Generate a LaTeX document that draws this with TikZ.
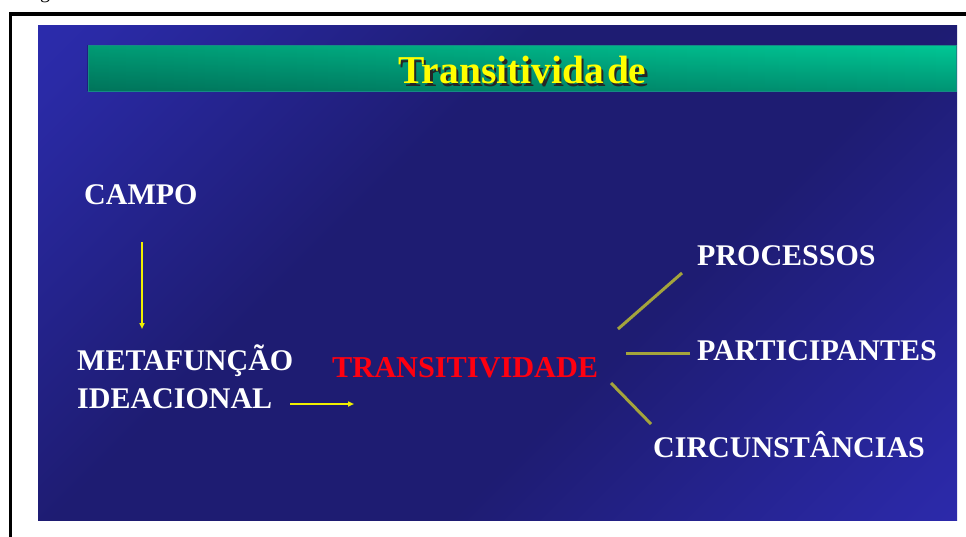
\documentclass[tikz,border=0pt]{standalone}
\usepackage{fontspec}
\setmainfont{Liberation Serif}
\usetikzlibrary{arrows.meta,fadings}
\definecolor{bgA}{HTML}{3232C4}
\definecolor{bgA2}{HTML}{2A2AA6}
\definecolor{bgM}{HTML}{1E1C72}
\definecolor{bgB2}{HTML}{2A28A4}
\definecolor{bgB}{HTML}{3430C6}
\definecolor{barTop}{HTML}{00C896}
\definecolor{barBot}{HTML}{009474}
\definecolor{barEdge}{HTML}{168A84}
\definecolor{titleY}{HTML}{FFFF00}
\definecolor{arrowY}{HTML}{F0F000}
\definecolor{branchO}{HTML}{A4A43C}
\definecolor{redT}{HTML}{FF0010}
\pgfdeclareverticalshading{slidebg}{100bp}{color(0bp)=(bgB); color(18bp)=(bgB2); color(40bp)=(bgM); color(60bp)=(bgM); color(82bp)=(bgA2); color(100bp)=(bgA)}
\tikzset{
  lbl/.style={text=white,font=\bfseries\fontsize{30}{38}\selectfont,inner sep=0pt,anchor=base west},
  redlbl/.style={text=redT,font=\bfseries\fontsize{30.3}{38}\selectfont,inner sep=0pt,anchor=base west},
  ttl/.style={font=\bfseries\fontsize{39.5}{44}\selectfont,inner sep=0pt,anchor=base},
  yarrow/.style={draw=arrowY,line width=1.5pt,-{Triangle[length=6pt,width=5pt]}},
  branch/.style={draw=branchO,line width=3pt}
}
\begin{document}
\begin{tikzpicture}[x=1pt,y=-1pt]
\useasboundingbox (0,0) rectangle (966,536);
% cut-off text at the very top
\begin{scope}
\clip (0,0) rectangle (966,3);
\node[font=\fontsize{20}{20}\selectfont,inner sep=0pt,anchor=base] (gcut) at (45,-2) {g};
\end{scope}
% frame
\draw[black,line width=3.5pt] (10.5,540) -- (10.5,14) -- (970,14);
% slide background
\shade[shading=slidebg,shading angle=45] (38,25) rectangle (957,520);
% title bar
\shade[top color=barTop,bottom color=barBot] (88,45) rectangle (956,91);
\fill[black,opacity=0.22,path fading=east] (88,45) rectangle (956,91);
\draw[barEdge,line width=0.8pt] (88,45) rectangle (956,91);
\node[ttl,text=black!85] (titleshadow) at (525,86) {Transitivida\hspace{3pt}de};
\node[ttl,text=titleY] (title) at (522.5,83) {Transitivida\hspace{3pt}de};
% labels
\node[lbl] (campo) at (84,204) {CAMPO};
\node[lbl] (meta1) at (77,370) {METAFUNÇÃO};
\node[lbl] (meta2) at (77,408) {IDEACIONAL};
\node[redlbl] (trans) at (332,377) {TRANSITIVIDADE};
\node[lbl] (proc) at (697,265) {PROCESSOS};
\node[lbl] (part) at (697,360) {PARTICIPANTES};
\node[lbl] (circ) at (653,457) {CIRCUNSTÂNCIAS};
% connector end points
\coordinate (a1s) at (142,242);
\coordinate (a1e) at (142,329);
\coordinate (a2s) at (290,404);
\coordinate (a2e) at (354,404);
\coordinate (b1s) at (618,329);
\coordinate (b1e) at (682,273);
\coordinate (b2s) at (626,353);
\coordinate (b2e) at (690,353);
\coordinate (b3s) at (611,383);
\coordinate (b3e) at (651,424);
% connectors
\draw[yarrow] (a1s) -- (a1e);
\draw[yarrow] (a2s) -- (a2e);
\draw[branch] (b1s) -- (b1e);
\draw[branch] (b2s) -- (b2e);
\draw[branch] (b3s) -- (b3e);
\end{tikzpicture}
\end{document}
